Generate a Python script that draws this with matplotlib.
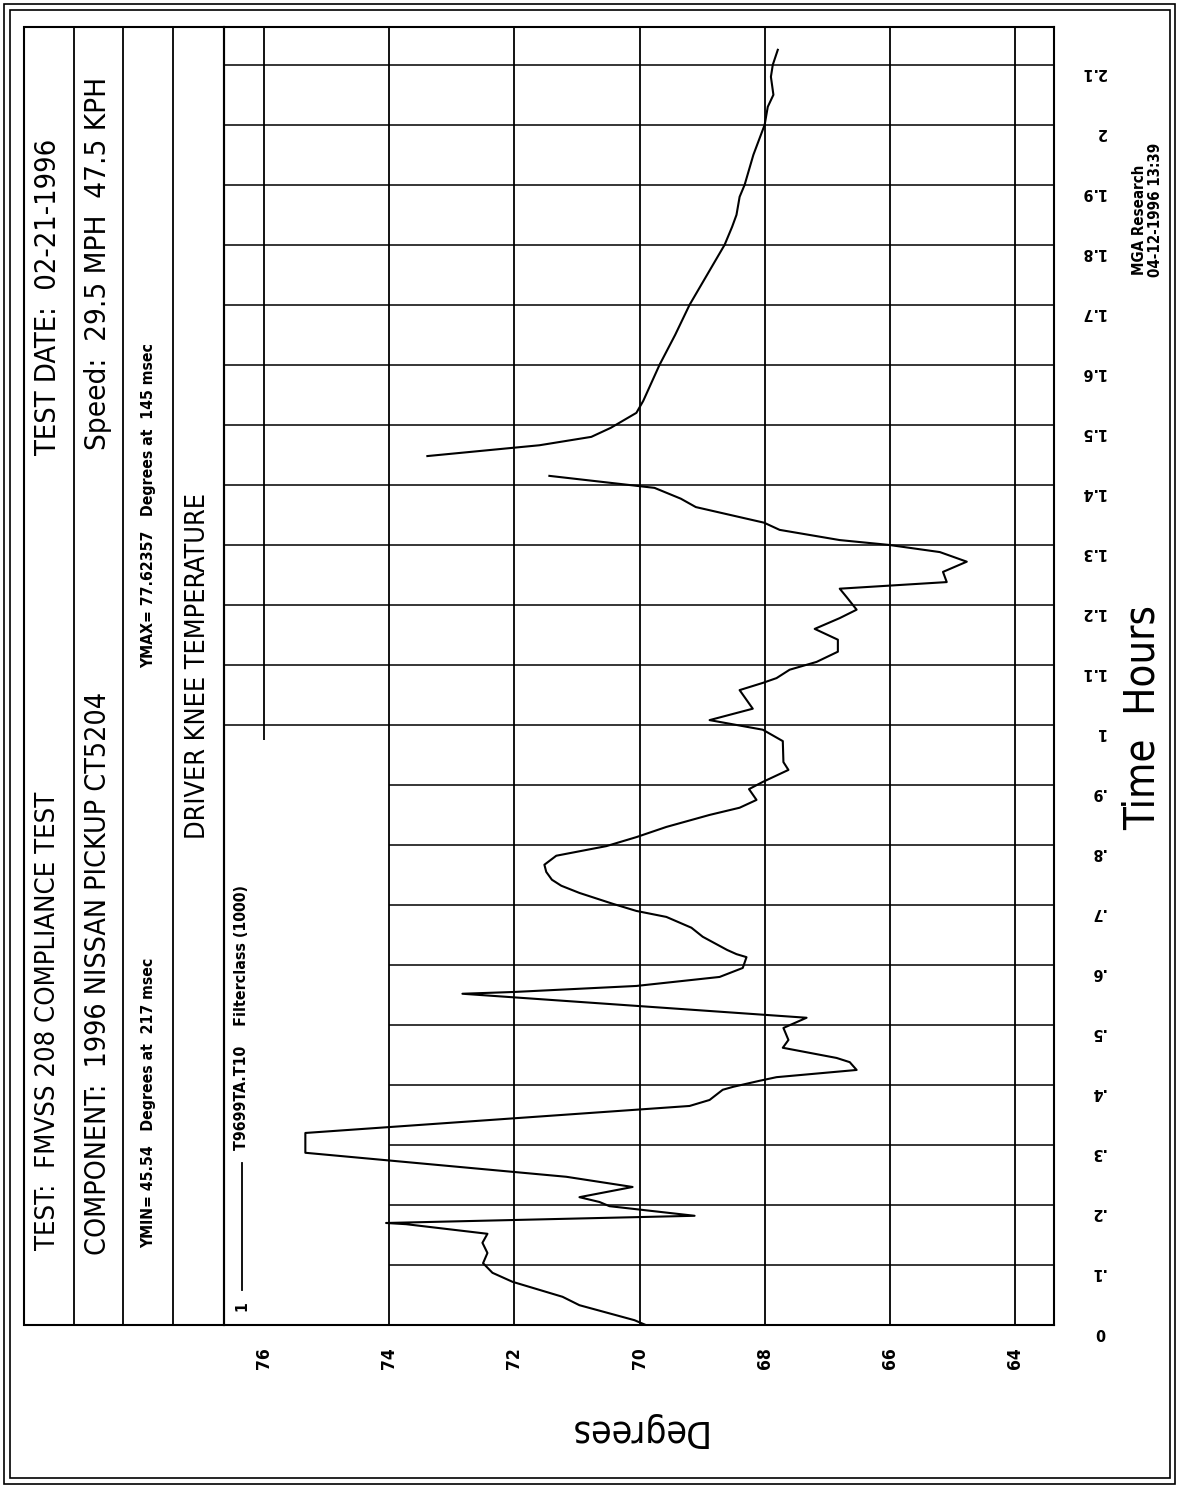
import matplotlib
matplotlib.use('Agg')
import matplotlib.pyplot as plt
from matplotlib import font_manager
from matplotlib.patches import Rectangle

# scanned plotter chart, drawn rotated (time runs upward, degrees leftward)

names = set(f.name for f in font_manager.fontManager.ttflist)
NARROW = 'Liberation Sans Narrow' if 'Liberation Sans Narrow' in names else 'DejaVu Sans'
plt.rcParams['font.family'] = [NARROW, 'DejaVu Sans']
plt.rcParams['font.stretch'] = 'condensed'

# ---- data ----
# first part of the trace (hours, degrees)
time_a = [0.000, 0.008, 0.033, 0.047, 0.072, 0.087, 0.103, 0.120, 0.137, 0.152,
          0.168, 0.170, 0.182, 0.198, 0.205, 0.213, 0.230, 0.247, 0.287, 0.320,
          0.365, 0.375, 0.392, 0.397, 0.407, 0.413, 0.425, 0.438, 0.445, 0.462,
          0.475, 0.495, 0.512, 0.552, 0.555, 0.565, 0.580, 0.595, 0.613, 0.618,
          0.625, 0.647, 0.662, 0.680, 0.690, 0.702, 0.720, 0.732, 0.742, 0.755,
          0.767, 0.782, 0.798, 0.813, 0.830, 0.850, 0.862, 0.875, 0.893, 0.905,
          0.925, 0.938, 0.973, 0.992, 1.008, 1.027, 1.058, 1.070, 1.078, 1.092,
          1.105, 1.122, 1.142, 1.160, 1.178, 1.192, 1.213, 1.227, 1.238, 1.255,
          1.272, 1.288, 1.300, 1.308, 1.325, 1.337, 1.363, 1.377, 1.395, 1.415]
temp_a = [69.90, 70.08, 70.96, 71.23, 72.03, 72.35, 72.50, 72.43, 72.51, 72.43,
          73.73, 74.05, 69.12, 70.48, 70.64, 70.96, 70.11, 71.17, 75.34, 75.34,
          69.20, 68.88, 68.67, 68.50, 68.08, 67.81, 66.53, 66.64, 66.85, 67.71,
          67.62, 67.70, 67.33, 72.83, 72.00, 70.05, 68.72, 68.35, 68.29, 68.45,
          68.60, 68.99, 69.17, 69.57, 70.05, 70.43, 70.96, 71.25, 71.40, 71.49,
          71.52, 71.33, 70.53, 70.05, 69.57, 68.88, 68.40, 68.13, 68.25, 68.03,
          67.62, 67.70, 67.71, 68.03, 68.88, 68.19, 68.40, 68.03, 67.81, 67.60,
          67.17, 66.83, 66.83, 67.20, 66.80, 66.53, 66.69, 66.80, 65.09, 65.15,
          64.77, 65.20, 66.02, 66.80, 67.76, 68.01, 69.10, 69.34, 69.76, 71.44]
# second part after the gap
time_b = [1.448, 1.462, 1.466, 1.480, 1.495, 1.520, 1.540, 1.600, 1.650, 1.700,
          1.750, 1.800, 1.830, 1.850, 1.880, 1.900, 1.950, 2.000, 2.030, 2.050,
          2.080, 2.100, 2.125]
temp_b = [73.39, 72.00, 71.60, 70.77, 70.46, 70.05, 69.94, 69.68, 69.43, 69.20,
          68.92, 68.64, 68.52, 68.45, 68.40, 68.32, 68.18, 68.00, 67.95, 67.86,
          67.90, 67.87, 67.79]

deg_ticks = [64, 66, 68, 70, 72, 74, 76]
time_ticks = [0, 0.1, 0.2, 0.3, 0.4, 0.5, 0.6, 0.7, 0.8, 0.9, 1.0,
              1.1, 1.2, 1.3, 1.4, 1.5, 1.6, 1.7, 1.8, 1.9, 2.0, 2.1]
time_labels = ['0', '.1', '.2', '.3', '.4', '.5', '.6', '.7', '.8', '.9', '1',
               '1.1', '1.2', '1.3', '1.4', '1.5', '1.6', '1.7', '1.8', '1.9', '2', '2.1']

TITLE_TEST = "TEST:  FMVSS 208 COMPLIANCE TEST"
TITLE_DATE = "TEST DATE:  02-21-1996"
COMPONENT = "COMPONENT:  1996 NISSAN PICKUP CT5204"
SPEED = "Speed:  29.5 MPH  47.5 KPH"
YMIN = "YMIN= 45.54   Degrees at  217 msec"
YMAX = "YMAX= 77.62357   Degrees at  145 msec"
CHART = "DRIVER KNEE TEMPERATURE"
LEGEND = "T9699TA.T10    Filterclass (1000)"
STAMP1 = "MGA Research"
STAMP2 = "04-12-1996 13:39"

# ---- layout (pixels of the 1181x1488 picture) ----
W, H = 1181, 1488
PL, PR, PT, PB = 224, 1054, 27, 1325
DEG_LEFT, DEG_RIGHT = 76.64, 63.376
T_TOP = 2.163

fig = plt.figure(figsize=(W / 100, H / 100), dpi=100)
fig.patch.set_facecolor('white')

ov = fig.add_axes([0, 0, 1, 1])
ov.set_xlim(0, W)
ov.set_ylim(H, 0)
ov.axis('off')

# double outer border and header block
ov.add_patch(Rectangle((4, 4), W - 10, H - 8, fill=False, lw=1.2, ec='black'))
ov.add_patch(Rectangle((10, 10), W - 21, H - 20, fill=False, lw=1.2, ec='black'))
ov.add_patch(Rectangle((24, PT), PL - 24, PB - PT, fill=False, lw=1.5, ec='black'))
for xs in [74, 123, 173]:
    ov.plot([xs, xs], [PT, PB], color='black', lw=1.3)

ax = fig.add_axes([PL / W, 1 - PB / H, (PR - PL) / W, (PB - PT) / H])
ax.set_facecolor('none')
ax.set_xlim(DEG_LEFT, DEG_RIGHT)
ax.set_ylim(0, T_TOP)
for s in ax.spines.values():
    s.set_linewidth(1.5)

# grid: the legend box (t<1, above 74) stays empty
for d in deg_ticks:
    if d == 76:
        ax.vlines(d, 0.975, T_TOP, color='black', lw=1.3)
    else:
        ax.vlines(d, 0, T_TOP, color='black', lw=1.3)
for t in time_ticks[1:]:
    if t < 0.99:
        ax.hlines(t, 74, DEG_RIGHT, color='black', lw=1.1)
    else:
        ax.hlines(t, DEG_LEFT, DEG_RIGHT, color='black', lw=1.1)

ax.plot(temp_a, time_a, color='black', lw=1.5)
ax.plot(temp_b, time_b, color='black', lw=1.5)

ax.set_xticks(deg_ticks, [str(d) for d in deg_ticks])
ax.tick_params(axis='x', length=0, pad=16, labelrotation=90, labelsize=12.5)
ax.set_yticks(time_ticks, time_labels)
ax.yaxis.tick_right()
ax.tick_params(axis='y', length=0, pad=37, labelrotation=180, labelsize=11.5)
plt.setp(ax.get_yticklabels(), ha='right', va='top', fontweight='bold')
plt.setp(ax.get_xticklabels(), fontweight='bold')

renderer = fig.canvas.get_renderer()


def fit(txt, length):
    bb = txt.get_window_extent(renderer)
    txt.set_fontsize(txt.get_fontsize() * length / max(bb.width, bb.height))
    return txt


up = dict(rotation=90, rotation_mode='anchor', va='center', color='black')

fit(ov.text(48, 1250, TITLE_TEST, ha='left', fontsize=20, **up), 460)
fit(ov.text(48, 455, TITLE_DATE, ha='left', fontsize=20, **up), 317)
fit(ov.text(98, 1255, COMPONENT, ha='left', fontsize=20, **up), 565)
fit(ov.text(98, 450, SPEED, ha='left', fontsize=20, **up), 372)
ymin = fit(ov.text(149, 1248, YMIN, ha='left', fontsize=12, fontweight='bold', **up), 290)
small = ymin.get_fontsize()
ov.text(149, 668, YMAX, ha='left', fontsize=small, fontweight='bold', **up)
fit(ov.text(198, 666, CHART, ha='center', fontsize=20, **up), 347)

# legend inside the empty box
ov.text(242, 1306, "1", ha='center', fontsize=small, fontweight='bold', **up)
ov.plot([242, 242], [1290, 1163], color='black', lw=1.3)
fit(ov.text(242, 1150, LEGEND, ha='left', fontsize=12, fontweight='bold', **up), 265)

# axis titles
fit(ov.text(636, 1430, "Degrees", rotation=180, ha='center', va='center', fontsize=20), 140)
fit(ov.text(1143, 718, "Time  Hours", ha='center', fontsize=20, **up), 225)
st = fit(ov.text(1140, 275, STAMP1, ha='left', fontsize=10, fontweight='bold', **up), 110)
ov.text(1155, 277, STAMP2, ha='left', fontsize=st.get_fontsize(), fontweight='bold', **up)

fig.savefig('out.png', dpi=100)
